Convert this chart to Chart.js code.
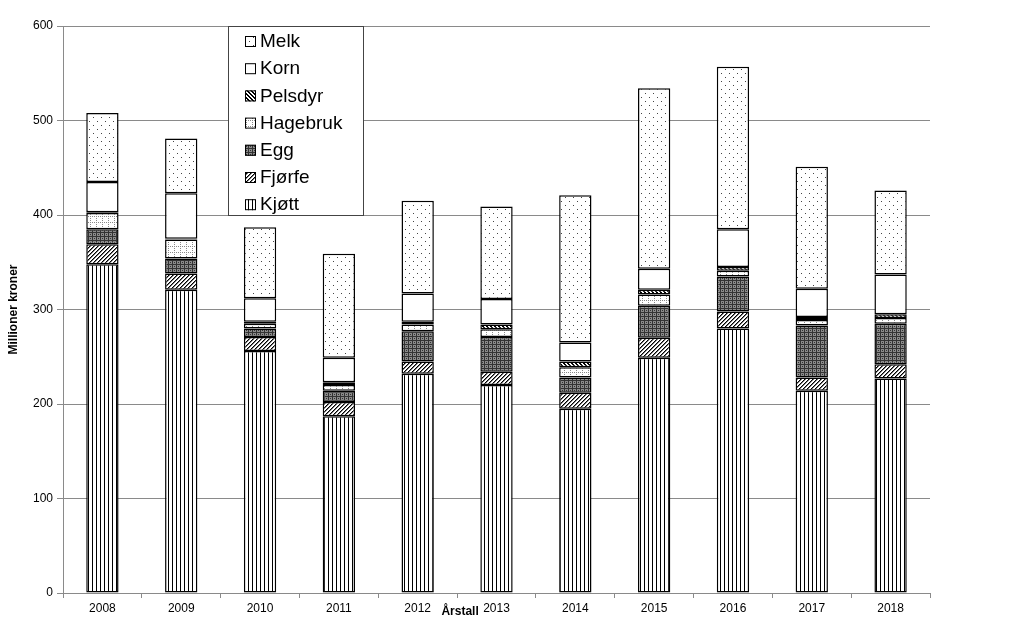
<!DOCTYPE html>
<html lang="no">
<head>
<meta charset="UTF-8">
<title>Millioner kroner per årstall</title>
<script src="https://cdn.jsdelivr.net/npm/chart.js"></script>
<style>
  html, body { margin: 0; padding: 0; background: #fff; }
  #wrap { width: 1024px; height: 625px; }
</style>
</head>
<body>
<div id="wrap"><canvas id="chart" width="1024" height="625"></canvas></div>
<script>
  // values in millioner kroner
  const years    = ['2008', '2009', '2010', '2011', '2012', '2013', '2014', '2015', '2016', '2017', '2018'];
  const kjott    = [348, 321, 256, 187, 232, 220, 195, 249, 280, 214, 227];
  const fjorfe   = [21, 17, 15, 15, 13, 14, 17, 21, 18, 14, 15];
  const egg      = [16, 16, 9, 12, 32, 37, 16, 34, 37, 55, 43];
  const hagebruk = [17, 20, 5, 6, 7, 8, 11, 12, 6, 6, 6];
  const pelsdyr  = [1, 1, 2, 3, 3, 5, 6, 5, 4, 3, 4];
  const korn     = [32, 48, 25, 26, 30, 27, 20, 22, 40, 30, 42];
  const melk     = [73, 58, 75, 110, 98, 98, 156, 191, 172, 129, 89];
  const yTicks   = [0, 100, 200, 300, 400, 500, 600];

  const FONT = '"Liberation Sans", Arial, sans-serif';
  const GRID = '#8a8a8a';

  // small black & white fill patterns like the old excel chart
  function makePattern(w, h, draw) {
    const c = document.createElement('canvas');
    c.width = w; c.height = h;
    const g = c.getContext('2d');
    g.fillStyle = '#fff';
    g.fillRect(0, 0, w, h);
    draw(g);
    return g.createPattern(c, 'repeat');
  }

  const pKjott = makePattern(4, 4, g => {
    g.fillStyle = '#000';
    g.fillRect(0, 0, 1, 4);
  });
  const pFjorfe = makePattern(4, 4, g => {
    g.fillStyle = '#000';
    for (let i = 0; i < 4; i++) g.fillRect(i, 3 - i, 1, 1);
    g.fillStyle = '#777';
    for (let i = 0; i < 4; i++) g.fillRect((i + 1) % 4, 3 - i, 1, 1);
  });
  const pEgg = makePattern(4, 4, g => {
    g.fillStyle = '#8a8a8a';
    g.fillRect(0, 0, 4, 4);
    g.fillStyle = '#333';
    g.fillRect(0, 0, 1, 4);
    g.fillRect(0, 0, 4, 1);
    g.fillRect(2, 2, 1, 1);
  });
  const pHagebruk = makePattern(6, 6, g => {
    g.fillStyle = '#888';
    for (let i = 0; i < 6; i += 2) {
      g.fillRect(i, 0, 1, 1);
      g.fillRect(0, i, 1, 1);
    }
  });
  const pPelsdyr = makePattern(4, 4, g => {
    g.fillStyle = '#000';
    for (let i = 0; i < 4; i++) {
      g.fillRect(i, i, 1, 1);
      g.fillRect((i + 1) % 4, i, 1, 1);
    }
  });
  const pMelk = makePattern(8, 8, g => {
    g.fillStyle = '#444';
    g.fillRect(1, 1, 1, 1);
    g.fillRect(5, 5, 1, 1);
  });

  function ds(label, data, fill) {
    return {
      label: label,
      data: data,
      backgroundColor: fill,
      borderColor: '#000',
      borderWidth: 1.5,
      borderSkipped: false,
      barPercentage: 0.41,
      categoryPercentage: 1.0
    };
  }

  // legend box inside the plot, and the odd placed x title
  const boxLegend = {
    id: 'boxLegend',
    afterDraw(chart) {
      const { ctx, chartArea, scales } = chart;
      const x0 = chartArea.left + 165;
      const w = 135;
      const y0 = chartArea.top;
      const y1 = scales.y.getPixelForValue(400);
      ctx.save();
      ctx.fillStyle = '#fff';
      ctx.fillRect(x0, y0, w, y1 - y0);
      ctx.strokeStyle = '#444';
      ctx.lineWidth = 1;
      ctx.strokeRect(x0 + 0.5, y0 + 0.5, w, y1 - y0);

      const items = chart.data.datasets.slice().reverse();
      items.forEach((d, i) => {
        const cy = y0 + 15 + i * 27.2;
        ctx.fillStyle = d.backgroundColor;
        ctx.fillRect(x0 + 17, cy - 5, 11, 11);
        ctx.strokeStyle = '#000';
        ctx.strokeRect(x0 + 17.5, cy - 4.5, 10, 10);
        ctx.fillStyle = '#000';
        ctx.font = '19px ' + FONT;
        ctx.textBaseline = 'middle';
        ctx.textAlign = 'left';
        ctx.fillText(d.label, x0 + 32, cy + 1);
      });

      ctx.font = 'bold 12px ' + FONT;
      ctx.textAlign = 'center';
      ctx.fillText('Årstall', chartArea.left + chartArea.width * 0.458, chartArea.bottom + 19);
      ctx.restore();
    }
  };

  const ctx = document.getElementById('chart').getContext('2d');

  new Chart(ctx, {
    type: 'bar',
    data: {
      labels: years,
      datasets: [
        ds('Kjøtt', kjott, pKjott),
        ds('Fjørfe', fjorfe, pFjorfe),
        ds('Egg', egg, pEgg),
        ds('Hagebruk', hagebruk, pHagebruk),
        ds('Pelsdyr', pelsdyr, pPelsdyr),
        ds('Korn', korn, '#fff'),
        ds('Melk', melk, pMelk)
      ]
    },
    options: {
      responsive: false,
      animation: false,
      devicePixelRatio: 1,
      layout: { padding: { left: 0, right: 94, top: 26, bottom: 0 } },
      plugins: {
        legend: { display: false },
        tooltip: { enabled: false }
      },
      scales: {
        x: {
          stacked: true,
          grid: { drawOnChartArea: false, color: GRID, tickLength: 5 },
          border: { color: GRID },
          ticks: { color: '#000', font: { family: FONT, size: 12 }, padding: 3 },
          afterFit: s => { s.height = 32; }
        },
        y: {
          stacked: true,
          min: 0,
          max: 600,
          afterBuildTicks: s => { s.ticks = yTicks.map(v => ({ value: v })); },
          grid: { color: GRID, tickLength: 6 },
          border: { color: GRID },
          ticks: { color: '#000', font: { family: FONT, size: 12 }, padding: 4 },
          title: {
            display: true,
            text: 'Millioner kroner',
            color: '#000',
            font: { family: FONT, size: 12, weight: 'bold' },
            padding: { top: 6, bottom: 0 }
          },
          afterFit: s => { s.width = 63; }
        }
      }
    },
    plugins: [boxLegend]
  });
</script>
</body>
</html>
